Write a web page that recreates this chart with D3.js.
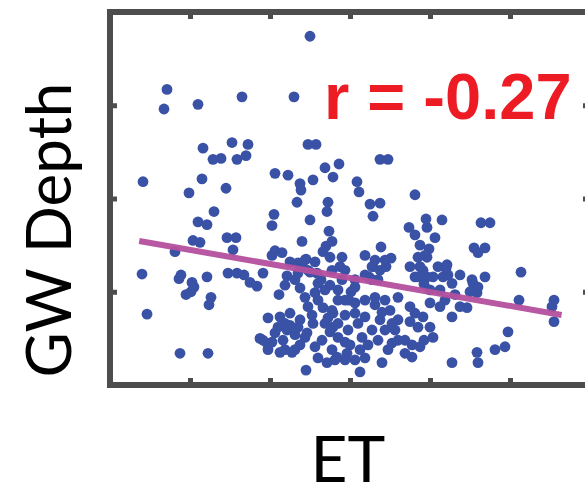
<!DOCTYPE html>
<html>
<head>
<meta charset="utf-8">
<script src="https://cdn.jsdelivr.net/npm/d3@7"></script>
<style>
  html, body { margin: 0; padding: 0; background: #fff; }
  svg { display: block; }
</style>
</head>
<body>
<svg id="chart" width="585" height="489"></svg>
<script>
// Evapotranspiration (ET) against groundwater depth, one dot per site.
const etValues = [
  500, 142.5, 135, 220, 330, 460,
  232.5, 305, 345, 257.5, 277.5, 317.5, 340, 495, 515, 675, 695,
  82.5, 230, 290, 197.5, 412.5, 445, 475, 507.5, 477.5, 537.5, 572.5, 557.5, 617.5, 622.5, 762.5,
  467.5, 545, 542.5, 650, 675, 657.5, 260, 500, 410, 405, 220, 242.5, 747.5, 790, 792.5, 830, 927.5, 950,
  547.5, 555, 540, 480, 292.5, 315, 207.5, 225, 162.5, 412.5, 307.5, 677.5, 775, 797.5, 787.5, 910, 937.5,
  550, 580, 490, 480, 702.5, 690, 750, 775, 820, 840, 1027.5, 80,
  177.5, 172.5, 242.5, 205, 210, 295, 317.5, 335, 350, 367.5, 382.5, 442.5, 462.5, 470, 500, 517.5, 527.5,
  575, 657.5, 647.5, 770, 785, 807.5, 845, 855, 905, 937.5, 920,
  190, 202.5, 252.5, 247.5, 422.5, 602.5, 597.5, 1022.5, 1110, 1105, 1110, 92.5,
  487.5, 512.5, 495, 532.5, 555, 420, 412.5, 437.5, 470, 487.5, 537.5, 550, 405, 437.5, 462.5, 512.5, 555, 530,
  562.5, 587.5, 612.5, 490, 625, 680, 595, 620, 637.5, 630, 655, 670, 687.5, 612.5, 637.5, 662.5, 687.5,
  720, 712.5, 737.5, 737.5, 705, 762.5, 770, 755, 612.5, 655, 670, 655, 687.5, 662.5, 762.5, 770,
  470, 487.5, 495, 430, 405, 532.5, 580, 612.5, 555,
  475, 507.5, 425, 442.5, 382.5, 455, 492.5, 557.5, 557.5, 567.5, 592.5, 570,
  175, 245, 375, 392.5,
  792.5, 782.5, 842.5, 832.5, 792.5, 920, 907.5, 900, 917.5, 800, 825, 875, 892.5, 855, 782.5, 800, 807.5,
  995, 917.5, 920, 962.5, 987.5, 855, 775, 425, 785, 720, 700, 675, 587.5,
  395, 450, 462.5, 432.5, 395, 475, 450, 475, 537.5, 520, 570, 545, 505, 570,
  587.5, 587.5, 612.5, 645, 680, 695, 720, 662.5, 705, 625, 520, 542.5, 637.5, 600,
  637.5, 675, 637.5, 750, 750, 755, 450, 512.5, 520, 437.5, 550, 587.5, 570,
  825, 862.5, 800, 875, 837.5, 762.5, 812.5
];
const gwDepthValues = [
  37.4, 31.7, 29.6, 30.1, 30.9, 30.9,
  25.4, 26.0, 25.8, 24.2, 24.3, 24.2, 24.6, 25.8, 25.8, 24.2, 24.2,
  21.8, 22.1, 21.1, 20.6, 22.7, 22.5, 21.6, 22.0, 20.9, 23.3, 23.7, 22.3, 21.8, 20.7, 20.4,
  19.6, 19.6, 18.6, 19.4, 19.5, 18.1, 18.6, 17.7, 18.3, 17.1, 17.5, 17.2, 16.9, 17.8, 16.9, 17.7, 17.4, 17.4,
  16.5, 15.4, 14.9, 15.4, 15.8, 15.8, 15.5, 15.3, 14.3, 14.4, 14.5, 14.8, 15.0, 14.6, 13.9, 14.7, 14.7,
  13.7, 13.7, 13.5, 12.9, 13.6, 12.7, 12.7, 12.7, 12.7, 12.5, 12.1, 11.9,
  11.8, 11.4, 11.6, 11.0, 10.5, 12.0, 12.0, 11.8, 11.0, 10.6, 12.0, 11.7, 11.3, 12.0, 12.1, 12.0, 11.3,
  12.7, 12.7, 11.6, 11.6, 10.8, 11.6, 11.8, 10.9, 11.3, 11.6, 10.5,
  9.7, 10.0, 9.4, 8.6, 9.7, 10.0, 9.1, 9.1, 9.1, 8.4, 6.8, 7.6,
  9.4, 9.9, 8.4, 8.3, 8.0, 6.2, 5.6, 6.6, 6.2, 5.1, 6.6, 5.7, 4.6, 3.8, 3.8, 4.1, 3.8, 4.8,
  2.7, 2.7, 2.7, 1.6, 1.4, 2.4, 5.9, 6.6, 7.3, 5.1, 5.9, 4.8, 5.9, 8.8, 9.1, 9.4, 9.1,
  7.0, 5.9, 4.8, 3.4, 4.5, 7.7, 6.2, 3.0, 10.5, 11.3, 11.3, 12.7, 13.4, 13.4, 11.6, 13.7,
  13.1, 13.4, 12.3, 14.2, 13.9, 14.3, 11.3, 11.3, 12.3,
  7.0, 6.6, 7.3, 5.9, 4.8, 3.5, 5.6, 7.7, 6.2, 3.0, 3.4, 5.1,
  3.4, 3.4, 5.0, 4.5,
  13.7, 12.3, 12.9, 11.6, 11.6, 14.2, 10.9, 10.0, 9.9, 8.8, 8.4, 8.4, 8.3, 7.3, 7.3, 6.2, 5.1,
  5.7, 3.5, 2.4, 3.8, 4.1, 2.4, 4.1, 3.5, 4.8, 9.4, 8.0, 7.0, 7.5,
  7.2, 7.7, 5.4, 4.8, 3.8, 4.3, 6.4, 10.4, 10.2, 9.1, 9.1, 7.2, 7.5, 6.6,
  9.1, 4.6, 7.7, 4.3, 7.8, 3.8, 4.8, 8.6, 6.6, 3.8, 2.9, 2.4, 2.9, 4.3,
  13.9, 12.3, 11.8, 8.4, 6.8, 4.3, 13.2, 13.2, 10.9, 10.7, 10.7, 12.3, 10.2,
  10.2, 9.7, 10.2, 11.8, 9.1, 16.1, 15.8
];

// Least-squares line through the cloud and the reported correlation.
const fitIntercept = 15.99;
const fitSlope = -0.00751;
const fitEtExtent = [73, 1129];
const correlationLabel = "r = -0.27";

// Axis settings (ticks only, no tick labels).
const etDomain = [0, 1200];
const gwDomain = [0, 40];
const etTicks = [200, 400, 600, 800, 1000];
const gwTicks = [10, 20, 30];
const xLabel = "ET";
const yLabel = "GW Depth";

const points = etValues.map((et, i) => ({ et, gw: gwDepthValues[i] }));

const svg = d3.select("#chart");
const plot = { left: 110, right: 590, top: 12, bottom: 385 };

const x = d3.scaleLinear().domain(etDomain).range([plot.left, plot.right]);
const y = d3.scaleLinear().domain(gwDomain).range([plot.bottom, plot.top]);

const frameColor = "#4d4d4d";

// Scatter points
svg.append("g")
  .selectAll("circle")
  .data(points)
  .join("circle")
  .attr("cx", d => x(d.et))
  .attr("cy", d => y(d.gw))
  .attr("r", 5.4)
  .attr("fill", "#3a52a6");

// Regression line
const fitData = fitEtExtent.map(et => ({ et, gw: fitIntercept + fitSlope * et }));
svg.append("path")
  .datum(fitData)
  .attr("d", d3.line().x(d => x(d.et)).y(d => y(d.gw)))
  .attr("fill", "none")
  .attr("stroke", "#b44f9e")
  .attr("stroke-width", 6)
  .attr("stroke-opacity", 0.95);

// Inward ticks on all four sides
function styleAxis(g) {
  g.select(".domain").remove();
  g.selectAll(".tick line").attr("stroke", frameColor).attr("stroke-width", 5);
  g.selectAll(".tick text").remove();
}
svg.append("g").attr("transform", `translate(0,${plot.bottom})`)
  .call(d3.axisBottom(x).tickValues(etTicks).tickSize(-7).tickFormat(""))
  .call(styleAxis);
svg.append("g").attr("transform", `translate(0,${plot.top})`)
  .call(d3.axisTop(x).tickValues(etTicks).tickSize(-7).tickFormat(""))
  .call(styleAxis);
svg.append("g").attr("transform", `translate(${plot.left},0)`)
  .call(d3.axisLeft(y).tickValues(gwTicks).tickSize(-7).tickFormat(""))
  .call(styleAxis);
svg.append("g").attr("transform", `translate(${plot.right},0)`)
  .call(d3.axisRight(y).tickValues(gwTicks).tickSize(-7).tickFormat(""))
  .call(styleAxis);

// Frame
svg.append("rect")
  .attr("x", plot.left)
  .attr("y", plot.top)
  .attr("width", plot.right - plot.left)
  .attr("height", plot.bottom - plot.top)
  .attr("fill", "none")
  .attr("stroke", frameColor)
  .attr("stroke-width", 6);

// Correlation label
svg.append("text")
  .attr("x", 324)
  .attr("y", 119)
  .attr("font-family", "'Liberation Sans', Arial, sans-serif")
  .attr("font-weight", "bold")
  .attr("font-size", 65)
  .attr("fill", "#ed1c24")
  .text(correlationLabel);

// Axis titles
svg.append("text")
  .attr("transform", `translate(71,230) rotate(-90)`)
  .attr("text-anchor", "middle")
  .attr("font-family", "Lato, 'Open Sans', sans-serif")
  .attr("font-size", 62)
  .attr("fill", "#000")
  .text(yLabel);

svg.append("text")
  .attr("x", 348)
  .attr("y", 482)
  .attr("text-anchor", "middle")
  .attr("font-family", "Lato, 'Open Sans', sans-serif")
  .attr("font-size", 64)
  .attr("fill", "#000")
  .text(xLabel);
</script>
</body>
</html>
